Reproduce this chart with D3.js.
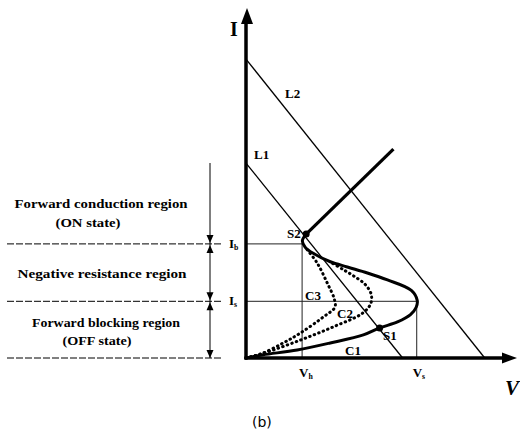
<!DOCTYPE html>
<html><head><meta charset="utf-8">
<script src="https://cdn.jsdelivr.net/npm/d3@7"></script>
<style>body{margin:0;background:#fff}svg{display:block}
.sf{font-family:"Liberation Serif","Times New Roman",Times,serif;font-weight:bold}
.cap{font-family:"DejaVu Sans",sans-serif}
</style>
</head><body>
<svg id="c" width="520" height="434"></svg>
<script>
// ---- data (V, I in arbitrary units) ----
const Vh = 2.07, Vs = 6.3, Ib = 3.26, Is = 1.62;
const L1 = [[0, 5.57], [5.78, 0]];
const L2 = [[0, 8.54], [8.81, 0]];
const mainV = [0, 0.63, 1.89, 3.11, 4.33, 4.93, 5.59, 6.07, 6.28, 6.32, 6.1, 5.22, 4.48, 3.74, 3.11, 2.48, 2.18, 2.08, 2.22];
const mainI = [0, 0.09, 0.23, 0.43, 0.66, 0.86, 1.03, 1.24, 1.45, 1.64, 1.93, 2.23, 2.43, 2.6, 2.75, 2.99, 3.17, 3.35, 3.54];
const onV = [2.22, 5.44];
const onI = [3.54, 5.97];
const c2V = [0, 0.15, 0.78, 2.0, 3.22, 4.3, 4.6, 4.62, 4.4, 4.0, 3.6, 3.2];
const c2I = [0, 0.03, 0.17, 0.51, 0.89, 1.28, 1.55, 1.82, 2.1, 2.33, 2.52, 2.7];
const c3V = [0, 0.5, 1.37, 2.0, 2.85, 3.28, 3.26, 3.0, 2.63, 2.26];
const c3I = [0, 0.1, 0.43, 0.71, 1.17, 1.45, 1.68, 2.14, 2.71, 3.09];
const S1 = [4.93, 0.86], S2 = [2.22, 3.54];
const regionLabels = [
  {lines: ["Forward conduction region", "(ON state)"]},
  {lines: ["Negative resistance region"]},
  {lines: ["Forward blocking region", "(OFF state)"]}
];

const svg = d3.select("#c");
const x = d3.scaleLinear().domain([0, 10]).range([246, 517]);
const y = d3.scaleLinear().domain([0, 10]).range([358, 8]);
const zip = (a, b) => a.map((v, i) => [v, b[i]]);
const line = d3.line().x(d => x(d[0])).y(d => y(d[1]));
const curve = d3.line().x(d => x(d[0])).y(d => y(d[1])).curve(d3.curveCatmullRom.alpha(0.5));

// guide lines
const g = svg.append("g").attr("stroke", "#222").attr("stroke-width", 1).attr("fill", "none");
g.append("path").attr("d", line([[0, Ib], [Vh, Ib], [Vh, 0]]));
g.append("path").attr("d", line([[0, Is], [Vs, Is], [Vs, 0]]));

// load lines
svg.append("path").attr("d", line(L1)).attr("stroke", "#000").attr("stroke-width", 1.3).attr("fill", "none");
svg.append("path").attr("d", line(L2)).attr("stroke", "#000").attr("stroke-width", 1.3).attr("fill", "none");

// dotted curves
[zip(c2V, c2I), zip(c3V, c3I)].forEach(d => {
  svg.append("path").attr("d", curve(d)).attr("fill", "none").attr("stroke", "#000")
    .attr("stroke-width", 3).attr("stroke-linecap", "round").attr("stroke-dasharray", "0.5,4.3");
});

// main curve
svg.append("path").attr("d", curve(zip(mainV, mainI))).attr("fill", "none").attr("stroke", "#000").attr("stroke-width", 3).attr("stroke-linejoin", "round");
svg.append("path").attr("d", line(zip(onV, onI))).attr("fill", "none").attr("stroke", "#000").attr("stroke-width", 3.2);

// points
[S1, S2].forEach(p => svg.append("circle").attr("cx", x(p[0])).attr("cy", y(p[1])).attr("r", 3.5).attr("fill", "#000"));

// axes
const xAxis = d3.axisBottom(x).tickValues([]).tickSizeOuter(0);
const yAxis = d3.axisLeft(y).tickValues([]).tickSizeOuter(0);
const ax = svg.append("g").attr("transform", `translate(0,${y(0)})`).call(xAxis);
const ay = svg.append("g").attr("transform", `translate(${x(0)},0)`).call(yAxis);
ax.select(".domain").attr("stroke", "#000").attr("stroke-width", 3.5).attr("d", `M${x(0) - 1.5},0H${x(10) - 10}`);
ay.select(".domain").attr("stroke", "#000").attr("stroke-width", 3.5).attr("d", `M0,${y(0) + 1.5}V${y(10) + 12}`);
svg.append("path").attr("d", `M${x(10)},${y(0)}L${x(10) - 15},${y(0) - 5.5}L${x(10) - 15},${y(0) + 5.5}Z`).attr("fill", "#000");
svg.append("path").attr("d", `M${x(0) + 1},${y(10)}L${x(0) - 5},${y(10) + 16}L${x(0) + 7},${y(10) + 16}Z`).attr("fill", "#000");

// axis titles
svg.append("text").attr("class", "sf").attr("x", 230).attr("y", 36).attr("font-size", 20).text("I");
svg.append("text").attr("class", "sf").attr("x", 505).attr("y", 395).attr("font-style", "italic").attr("font-size", 21).text("V");

// subscript labels
function sub(xp, yp, main, s, size) {
  const t = svg.append("text").attr("class", "sf").attr("x", xp).attr("y", yp).attr("font-size", size);
  t.append("tspan").text(main);
  t.append("tspan").attr("font-size", size * 0.6).attr("dy", 2).text(s);
}
sub(x(Vh) - 3, 377, "V", "h", 13);
sub(x(Vs) - 4, 377, "V", "s", 13);
sub(229, y(Ib) + 4, "I", "b", 13);
sub(229, y(Is) + 4, "I", "s", 13);

// curve labels
const lab = (t, xp, yp, size) => svg.append("text").attr("class", "sf").attr("x", xp).attr("y", yp).attr("font-size", size || 13).text(t);
lab("L2", 285, 98);
lab("L1", 254, 159);
lab("S2", 287, 238);
lab("S1", 383, 340);
lab("C1", 345, 355);
lab("C2", 337, 318);
lab("C3", 305, 300);

// caption
svg.append("text").attr("class", "cap").attr("x", 252).attr("y", 427).attr("font-size", 14).text("(b)");

// left region annotation
const yTop = 163, ys = [y(Ib), y(Is), y(0)];
const la = svg.append("g").attr("stroke", "#000").attr("stroke-width", 1);
ys.forEach(v => la.append("line").attr("x1", 7).attr("x2", 222).attr("y1", v).attr("y2", v).attr("stroke-dasharray", "7,2"));
la.append("line").attr("x1", 210).attr("x2", 210).attr("y1", yTop).attr("y2", y(0));
function arrow(yp, dir) {
  svg.append("path").attr("d", `M210,${yp}L${206.5},${yp - dir * 8}L${213.5},${yp - dir * 8}Z`).attr("fill", "#000");
}
arrow(ys[0] - 1, 1); arrow(ys[0] + 1, -1);
arrow(ys[1] - 1, 1); arrow(ys[1] + 1, -1);
arrow(ys[2], 1);

const textPos = [
  [{cx: 101, y: 208, w: 173}, {cx: 88, y: 227, w: 65}],
  [{cx: 102, y: 278, w: 169}],
  [{cx: 106, y: 327, w: 148}, {cx: 97, y: 345, w: 69}]
];
regionLabels.forEach((r, i) => r.lines.forEach((t, j) => {
  const p = textPos[i][j];
  svg.append("text").attr("class", "sf").attr("x", p.cx - p.w / 2).attr("y", p.y)
    .attr("font-size", 13).attr("textLength", p.w).attr("lengthAdjust", "spacingAndGlyphs").text(t);
}));
</script>
</body></html>
